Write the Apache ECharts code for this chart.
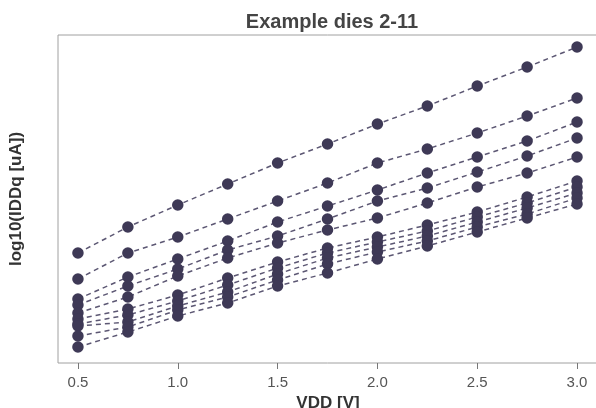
<!DOCTYPE html>
<html lang="en">
<head>
  <meta charset="UTF-8" />
  <title>Example dies 2-11</title>
  <script src="https://cdn.jsdelivr.net/npm/echarts@6/dist/echarts.min.js"></script>
  <style>
    body { margin: 0; background: #fff; }
    #chart { width: 596px; height: 408px; }
  </style>
</head>
<body>
  <div id="chart"></div>
  <script>
    // VDD sweep points
    const vdd = [0.5, 0.75, 1.0, 1.25, 1.5, 1.75, 2.0, 2.25, 2.5, 2.75, 3.0];
    const xTicks = [0.5, 1.0, 1.5, 2.0, 2.5, 3.0];

    // log10(IDDq) per die (axis has no tick labels, values read as relative positions)
    const die2 = [1.10, 1.36, 1.58, 1.79, 2.00, 2.19, 2.39, 2.57, 2.77, 2.96, 3.16];
    const die3 = [0.84, 1.10, 1.26, 1.44, 1.62, 1.80, 2.00, 2.14, 2.30, 2.47, 2.65];
    const die4 = [0.64, 0.86, 1.04, 1.22, 1.41, 1.57, 1.73, 1.90, 2.06, 2.22, 2.41];
    const die5 = [0.58, 0.77, 0.94, 1.13, 1.27, 1.44, 1.62, 1.75, 1.91, 2.07, 2.25];
    const die6 = [0.50, 0.66, 0.87, 1.05, 1.20, 1.33, 1.45, 1.60, 1.76, 1.90, 2.06];
    const die7 = [0.44, 0.54, 0.68, 0.85, 1.01, 1.15, 1.26, 1.38, 1.51, 1.66, 1.82];
    const die8 = [0.39, 0.48, 0.62, 0.78, 0.95, 1.10, 1.21, 1.32, 1.46, 1.60, 1.76];
    const die9 = [0.37, 0.41, 0.57, 0.71, 0.89, 1.05, 1.16, 1.27, 1.41, 1.55, 1.70];
    const die10 = [0.27, 0.36, 0.53, 0.66, 0.83, 0.99, 1.11, 1.22, 1.36, 1.49, 1.65];
    const die11 = [0.16, 0.31, 0.47, 0.60, 0.77, 0.90, 1.04, 1.17, 1.31, 1.45, 1.59];

    const dies = [die2, die3, die4, die5, die6, die7, die8, die9, die10, die11];

    const chart = echarts.init(document.getElementById('chart'));
    chart.setOption({
      animation: false,
      title: {
        text: 'Example dies 2-11',
        left: 327, top: 7, textAlign: 'center',
        textStyle: { fontFamily: 'Liberation Sans', fontSize: 20, fontWeight: 'bold', color: '#444' }
      },
      grid: {
        left: 58, top: 35, right: -2, bottom: 45,
        show: true, borderColor: '#a0a0a0', borderWidth: 1,
        containLabel: false, outerBoundsMode: 'none'
      },
      xAxis: {
        type: 'value', min: 0.4, max: 3.105,
        name: 'VDD [V]', nameLocation: 'middle', nameGap: 30,
        nameTextStyle: { fontFamily: 'Liberation Sans', fontSize: 17, fontWeight: 'bold', color: '#333' },
        axisLine: { show: false },
        axisTick: { show: true, customValues: xTicks, length: 6, lineStyle: { color: '#777' } },
        axisLabel: {
          customValues: xTicks, margin: 12,
          formatter: v => v.toFixed(1),
          fontFamily: 'Liberation Sans', fontSize: 15, color: '#555'
        },
        splitLine: { show: false }
      },
      yAxis: {
        type: 'value', min: 0, max: 3.28,
        name: 'log10(IDDq [uA])', nameLocation: 'middle', nameGap: 33,
        nameTextStyle: { fontFamily: 'Liberation Sans', fontSize: 17, fontWeight: 'bold', color: '#333' },
        axisLine: { show: false },
        axisTick: { show: false },
        axisLabel: { show: false },
        splitLine: { show: false }
      },
      series: dies.map((d, i) => ({
        name: 'die ' + (i + 2),
        type: 'line',
        data: vdd.map((x, j) => [x, d[j]]),
        symbol: 'circle',
        symbolSize: 11.5,
        itemStyle: { color: '#3e3956' },
        lineStyle: { color: '#5c5773', width: 1.5, type: [5, 4] }
      }))
    });
  </script>
</body>
</html>
